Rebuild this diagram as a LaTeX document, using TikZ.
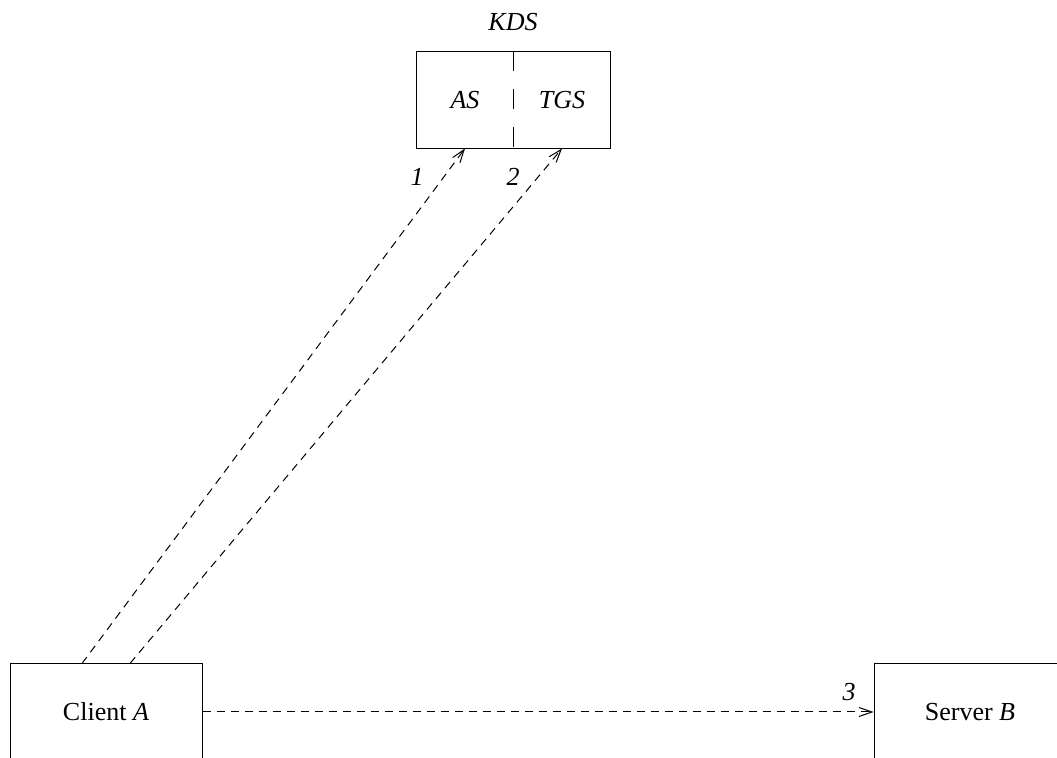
\documentclass[tikz,border=0pt]{standalone}
\usepackage{fontspec}
\setmainfont{Liberation Serif}
\usetikzlibrary{arrows.meta,positioning}

\begin{document}
\begin{tikzpicture}[
  x=0.5pt, y=-0.5pt,
  font=\fontsize{13}{15}\selectfont,
  line width=0.5pt,
  hostbox/.style={
    draw=black,
    minimum width=96pt,
    minimum height=48pt,
    inner sep=0pt
  },
  halfbox/.style={
    minimum width=48pt,
    minimum height=48pt,
    inner sep=0pt
  },
  msgarrow/.style={-{Straight Barb[length=6.5pt,width=4.5pt]},dash pattern=on 4pt off 3pt},
  msglabel/.style={inner sep=0pt}
]
\clip (0,0) rectangle (1057,758);
\fill[white] (0,0) rectangle (1057,758);

\node[halfbox] (as) at (465,100) {\textit{AS}};
\node[halfbox, right=0pt of as] (tgs) {\textit{TGS}};
\draw (as.north west) rectangle (tgs.south east);
\draw[dash pattern=on 10pt off 9pt] (as.north east) -- (as.south east);
\node (kds) at (513,22) {\textit{KDS}};

\node[hostbox] (client) at (106,712) {Client \textit{A}};
\node[hostbox] (server) at (970,712) {Server \textit{B}};

\draw[msgarrow] ([xshift=-12pt]client.north) -- (as.south);
\draw[msgarrow] ([xshift=12pt]client.north) -- (tgs.south);
\draw[msgarrow] (client.east) -- (server.west);

\node[msglabel] (n1) at (417,177) {\textit{1}};
\node[msglabel] (n2) at (513,177) {\textit{2}};
\node[msglabel] (n3) at (849,692) {\textit{3}};
\end{tikzpicture}
\end{document}
